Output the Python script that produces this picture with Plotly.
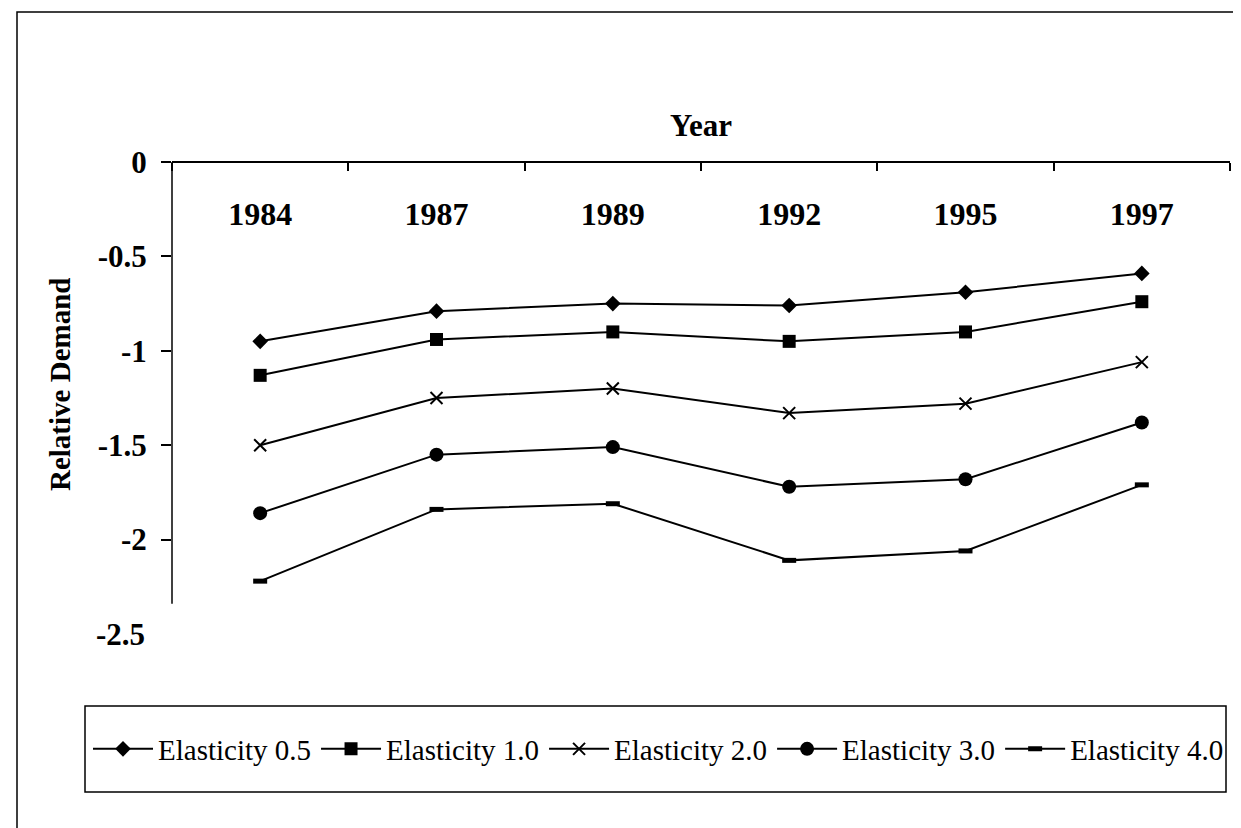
import plotly.graph_objects as go

# ---- data ----
years = ["1984", "1987", "1989", "1992", "1995", "1997"]
e05 = [-0.95, -0.79, -0.75, -0.76, -0.69, -0.59]
e10 = [-1.13, -0.94, -0.90, -0.95, -0.90, -0.74]
e20 = [-1.50, -1.25, -1.20, -1.33, -1.28, -1.06]
e30 = [-1.86, -1.55, -1.51, -1.72, -1.68, -1.38]
e40 = [-2.22, -1.84, -1.81, -2.11, -2.06, -1.71]
series_names = ["Elasticity 0.5", "Elasticity 1.0", "Elasticity 2.0",
                "Elasticity 3.0", "Elasticity 4.0"]
y_tickvals = [0, -0.5, -1, -1.5, -2]
y_ticktext = ["0", "-0.5", "-1", "-1.5", "-2"]

# ---- layout geometry ----
# The page body has an 8px margin, so the figure is drawn 8px in from the
# window corner; positions below are given in window pixels.
OFF = 8
W, H = 1241 - OFF, 828 - OFF
PLOT_L, PLOT_R, PLOT_T, PLOT_B = 172, 1230, 162, 634   # window pixels
L = PLOT_L - OFF
R = W - (PLOT_R - OFF)
T = PLOT_T - OFF
B = H - (PLOT_B - OFF)
PW, PH = W - L - R, H - T - B


def px2x(px):
    return (px - PLOT_L) / PW


def px2y(py):
    return (PLOT_B - py) / PH


FONT = "Liberation Serif, Times New Roman, serif"

styles = [
    dict(symbol="diamond", size=12, line=dict(width=0)),
    dict(symbol="square", size=13, line=dict(width=0)),
    dict(symbol="x-thin", size=12, line=dict(width=2, color="black")),
    dict(symbol="circle", size=14, line=dict(width=0)),
    dict(symbol="line-ew", size=10, line=dict(width=5, color="black")),
]
values = [e05, e10, e20, e30, e40]

fig = go.Figure()
for name, vals, st in zip(series_names, values, styles):
    fig.add_trace(go.Scatter(
        x=years, y=vals, name=name, mode="lines+markers",
        line=dict(color="black", width=2),
        marker=dict(color="black", **st),
    ))

fig.update_layout(
    width=W, height=H,
    margin=dict(l=L, r=R, t=T, b=B, autoexpand=False),
    paper_bgcolor="white", plot_bgcolor="white",
    font=dict(family=FONT, color="black"),
    xaxis=dict(
        type="category", anchor="free", position=1, side="bottom",
        range=[-0.5, len(years) - 0.5],
        showline=True, linecolor="black", linewidth=1.5,
        ticks="outside", ticklen=8, tickwidth=1.5, tickcolor="black",
        tickson="boundaries", showgrid=False, zeroline=False,
        tickfont=dict(family=FONT, size=32, weight="bold"),
        ticklabelstandoff=24,
    ),
    yaxis=dict(
        range=[-2.5, 0], showline=False, showgrid=False, zeroline=False,
        tickvals=y_tickvals, ticktext=y_ticktext,
        ticks="outside", ticklen=10, tickwidth=1.5, tickcolor="black",
        tickfont=dict(family=FONT, size=31, weight="bold"),
        ticklabelstandoff=8,
    ),
    showlegend=True,
    legend=dict(
        orientation="h", x=px2x(88), y=px2y(749), xanchor="left",
        yanchor="middle", font=dict(family=FONT, size=29),
        bgcolor="rgba(0,0,0,0)", borderwidth=0, itemwidth=60,
    ),
    annotations=[
        dict(text="Year", x=px2x(701), y=px2y(125), xref="paper", yref="paper",
             xanchor="center", yanchor="middle", showarrow=False,
             font=dict(family=FONT, size=31, weight="bold")),
        dict(text="Relative Demand", x=px2x(60), y=px2y(385), xref="paper",
             yref="paper", xanchor="center", yanchor="middle", textangle=-90,
             showarrow=False, font=dict(family=FONT, size=29, weight="bold")),
        dict(text="-2.5", x=px2x(147), y=-2.5, xref="paper", yref="y",
             xanchor="right", yanchor="middle", showarrow=False,
             font=dict(family=FONT, size=31, weight="bold")),
    ],
    shapes=[
        # y axis line (ends above the -2.5 label)
        dict(type="line", xref="paper", yref="y", x0=0, x1=0, y0=0, y1=-2.34,
             line=dict(color="black", width=1.5)),
        # legend box
        dict(type="rect", xref="paper", yref="paper",
             x0=px2x(85), x1=px2x(1226), y0=px2y(706), y1=px2y(792),
             line=dict(color="black", width=1.5)),
        # outer chart frame (right/bottom edges beyond the page)
        dict(type="rect", xref="paper", yref="paper",
             x0=px2x(17), x1=px2x(1300), y0=px2y(12), y1=px2y(900),
             line=dict(color="black", width=1.5)),
    ],
)

fig.write_html("out.html")
